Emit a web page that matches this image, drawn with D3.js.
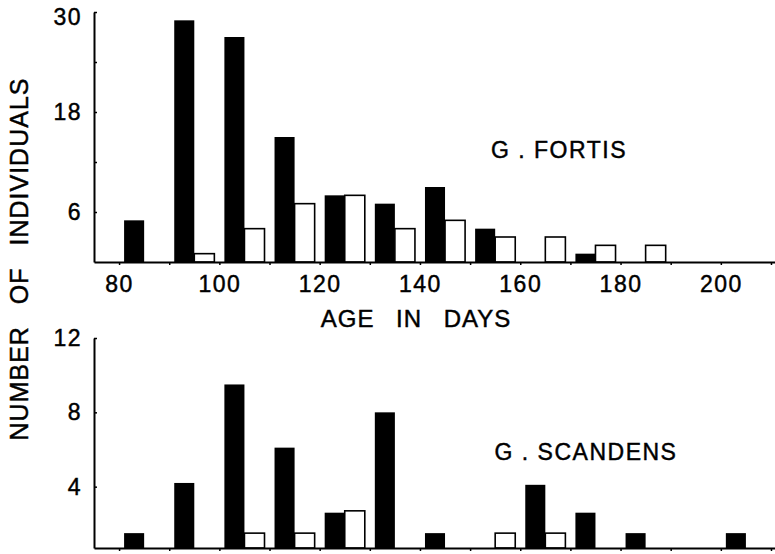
<!DOCTYPE html>
<html>
<head>
<meta charset="utf-8">
<script src="https://cdn.jsdelivr.net/npm/d3@7"></script>
<style>
  body { margin: 0; background: #fff; }
  text { font-family: "Liberation Sans", Arial, sans-serif; fill: #000; stroke: #000; stroke-width: 0.45px; }
</style>
</head>
<body>
<div class="chart"></div>
<script>
// age bins (start of each 10-day class)
var bins = [80, 90, 100, 110, 120, 130, 140, 150, 160, 170, 180, 190, 200];

// G. fortis counts
var fortisBlack = [5, 29, 27, 15, 8, 7, 9, 4, 0, 1, 0, 0, 0];
var fortisWhite = [0, 1, 4, 7, 8, 4, 5, 3, 3, 2, 2, 0, 0];

// G. scandens counts
var scandensBlack = [1.5, 4.2, 9.5, 6.1, 2.6, 8, 1.5, 0, 4.1, 2.6, 1.5, 0, 1.5];
var scandensWhite = [0, 0, 1.5, 1.5, 2.7, 0, 0, 1.5, 1.5, 0, 0, 0, 0];

var xTicks = [80, 90, 100, 110, 120, 130, 140, 150, 160, 170, 180, 190, 200, 210];
var fortisTicks = [6, 12, 18, 24, 30];
var fortisLabels = [6, 18, 30];
var scandensTicks = [4, 8, 12];

var width = 775,
  height = 554;

var svg = d3
  .select(".chart")
  .append("svg")
  .attr("width", width)
  .attr("height", height);

var x = d3.scaleLinear().domain([75, 211]).range([94, 776]);

var yTop = d3.scaleLinear().domain([0, 30]).range([262, 12]);
var yBot = d3.scaleLinear().domain([0.7, 12]).range([548, 338]);

function drawPanel(y, black, white, ticks, labels, showX) {
  var g = svg.append("g");
  var base = y.range()[0];

  var rows = bins.map(function (b, i) {
    return { bin: b, black: black[i], white: white[i] };
  });

  g.selectAll(".black")
    .data(rows.filter(function (d) { return d.black > 0; }))
    .enter()
    .append("rect")
    .attr("class", "black")
    .attr("x", function (d) { return x(d.bin + 1); })
    .attr("width", function (d) { return x(d.bin + 5) - x(d.bin + 1); })
    .attr("y", function (d) { return y(d.black); })
    .attr("height", function (d) { return base - y(d.black); })
    .style("fill", "#000");

  g.selectAll(".white")
    .data(rows.filter(function (d) { return d.white > 0; }))
    .enter()
    .append("rect")
    .attr("class", "white")
    .attr("x", function (d) { return x(d.bin + 5); })
    .attr("width", function (d) { return x(d.bin + 9) - x(d.bin + 5); })
    .attr("y", function (d) { return y(d.white); })
    .attr("height", function (d) { return base - y(d.white); })
    .style("fill", "#fff")
    .style("stroke", "#000")
    .style("stroke-width", 1.6);

  var xAxis = g
    .append("g")
    .attr("transform", "translate(0," + base + ")")
    .call(
      d3
        .axisBottom(x)
        .tickValues(xTicks)
        .tickSize(3)
        .tickSizeOuter(0)
        .tickPadding(11)
        .tickFormat(function (d) {
          return showX && d % 20 === 0 && d <= 200 ? d : "";
        })
    );

  var yAxis = g
    .append("g")
    .attr("transform", "translate(" + x(75) + ",0)")
    .call(
      d3
        .axisLeft(y)
        .tickValues(ticks)
        .tickSize(-3)
        .tickSizeOuter(0)
        .tickPadding(12)
        .tickFormat(function (d) {
          return labels.indexOf(d) >= 0 ? d : "";
        })
    );

  [xAxis, yAxis].forEach(function (a) {
    a.select(".domain").style("stroke", "#000").style("stroke-width", 2);
    a.selectAll(".tick line").style("stroke", "#000").style("stroke-width", 1.5);
    a.selectAll("text")
      .style("font-size", "23px")
      .style("letter-spacing", "1.5px")
      .style("fill", "#000");
  });

  // top label sits a little lower in the original
  yAxis.selectAll(".tick text")
    .filter(function (d) { return d === y.domain()[1] && y === yTop; })
    .attr("dy", "0.55em");

  return g;
}

drawPanel(yTop, fortisBlack, fortisWhite, fortisTicks, fortisLabels, true);
drawPanel(yBot, scandensBlack, scandensWhite, scandensTicks, scandensTicks, false);

svg
  .append("text")
  .attr("x", 559)
  .attr("y", 158)
  .style("text-anchor", "middle")
  .style("font-size", "23px")
  .style("letter-spacing", "1.5px")
  .text("G . FORTIS");

svg
  .append("text")
  .attr("x", 586)
  .attr("y", 460)
  .style("text-anchor", "middle")
  .style("font-size", "23px")
  .style("letter-spacing", "1.5px")
  .text("G . SCANDENS");

svg
  .append("text")
  .attr("x", 416)
  .attr("y", 327)
  .style("text-anchor", "middle")
  .style("font-size", "24px")
  .style("letter-spacing", "1px")
  .style("word-spacing", "14px")
  .text("AGE IN DAYS");

svg
  .append("text")
  .attr("transform", "translate(28,259) rotate(-90)")
  .style("text-anchor", "middle")
  .style("font-size", "25px")
  .style("letter-spacing", "1px")
  .style("word-spacing", "14px")
  .text("NUMBER OF INDIVIDUALS");
</script>
</body>
</html>
